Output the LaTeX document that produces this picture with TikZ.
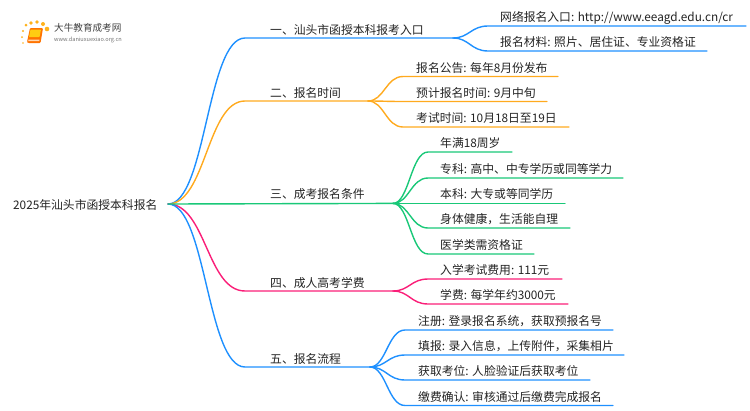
\documentclass[tikz,border=0pt]{standalone}
\usepackage{fontspec}
\setmainfont{Noto Sans CJK SC}
\definecolor{lineblue}{RGB}{30,144,255}
\definecolor{lineorange}{RGB}{255,170,30}
\definecolor{linegreen}{RGB}{25,200,120}
\definecolor{linepink}{RGB}{250,30,120}
\definecolor{textgray}{RGB}{35,35,35}
\tikzset{%
	label/.style    	= {anchor = base west, inner sep = 0pt, text = textgray, font = \fontsize{11.8}{14}\selectfont},
	logotext/.style 	= {anchor = base west, inner sep = 0pt, text = black!75},
	link/.style     	= {line width = 1.4pt, line cap = round},
	trunk/.style    	= {to path = {.. controls +(38,0) and +(-38,0) .. (\tikztotarget)}}, % Root to branch
	twig/.style     	= {to path = {.. controls +(16,0) and +(-17,0) .. (\tikztotarget)}} % Fork to leaf
}

\begin{document}
\begin{tikzpicture}[x=1pt, y=-1pt]
	\useasboundingbox (0,0) rectangle (750,410);

	% Drawing the logo
	\foreach \px/\py/\pr in {23/43/0.8, 22/37/1, 23/31/1.2, 26/25/1.5, 31/23/1.8, 37/22/1.9, 43/24/2, 47/29/2.3}
		\fill[lineorange!90!yellow] (\px,\py) circle (\pr);
	\fill[orange!90!red, rounded corners=1pt] (27,42) -- (30,28) -- (43,28) -- (40.5,43) -- (28,43) -- cycle;
	\fill[lineorange!60!yellow, rounded corners=0.5pt] (30.5,29.5) -- (41,29.5) -- (39.5,37) -- (29,37) -- cycle;
	\fill[white!70!orange] (28.5,39.5) -- (39.5,39.5) -- (39.2,41) -- (28.2,41) -- cycle;
	\shade[left color=white, middle color=black!18, right color=white] (45,33) rectangle (133,33.8);
	\node[logotext, font=\fontsize{9.6}{11}\selectfont] (logoname) at (54,31) {大牛教育成考网};
	\node[logotext, font=\fontsize{5.6}{7}\selectfont, text=black!55] (logourl) at (54,41) {www.daniuxuexiao.org.cn};

	% Drawing the text
	\draw
	node[label] (root) at (13,209) {2025年汕头市函授本科报名}
	node[label] (b1) at (270,34) {一、汕头市函授本科报考入口}
	node[label] (b2) at (270,97) {二、报名时间}
	node[label] (b3) at (270,198) {三、成考报名条件}
	node[label] (b4) at (270,287) {四、成人高考学费}
	node[label] (b5) at (270,363) {五、报名流程}
	node[label] (a1) at (500,21.5) {网络报名入口: http://www.eeagd.edu.cn/cr}
	node[label] (a2) at (500,46.5) {报名材料: 照片、居住证、专业资格证}
	node[label] (c1) at (416,72) {报名公告: 每年8月份发布}
	node[label] (c2) at (416,97) {预计报名时间: 9月中旬}
	node[label] (c3) at (416,122.5) {考试时间: 10月18日至19日}
	node[label] (d1) at (440,147.5) {年满18周岁}
	node[label] (d2) at (440,173.5) {专科: 高中、中专学历或同等学力}
	node[label] (d3) at (440,198.5) {本科: 大专或等同学历}
	node[label] (d4) at (440,223.5) {身体健康，生活能自理}
	node[label] (d5) at (440,249.5) {医学类需资格证}
	node[label] (e1) at (440,274.5) {入学考试费用: 111元}
	node[label] (e2) at (440,299.5) {学费: 每学年约3000元}
	node[label] (f1) at (418,325.5) {注册: 登录报名系统，获取预报名号}
	node[label] (f2) at (418,350.5) {填报: 录入信息，上传附件，采集相片}
	node[label] (f3) at (418,375.5) {获取考位: 人脸验证后获取考位}
	node[label] (f4) at (418,401) {缴费确认: 审核通过后缴费完成报名}
	;

	% Drawing the joints
	\coordinate (start) at (168,204);
	\coordinate (s1) at (245,38);
	\coordinate (s2) at (245,101);
	\coordinate (s4) at (245,291);
	\coordinate (s5) at (245,367);
	\coordinate (fork1) at (453,38);
	\coordinate (fork2) at (368,101);
	\coordinate (fork3) at (393,203.4);
	\coordinate (fork4) at (393,291);
	\coordinate (fork5) at (370,367);
	\coordinate (a1s) at (488,26);
	\coordinate (a1e) at (746,26);
	\coordinate (a2s) at (488,51);
	\coordinate (a2e) at (707,51);
	\coordinate (c1s) at (403,76.5);
	\coordinate (c1e) at (558,76.5);
	\coordinate (c2s) at (403,101.5);
	\coordinate (c2e) at (547,101.5);
	\coordinate (c3s) at (403,127);
	\coordinate (c3e) at (569,127);
	\coordinate (d1s) at (428,152);
	\coordinate (d1e) at (512,152);
	\coordinate (d2s) at (428,178);
	\coordinate (d2e) at (623,178);
	\coordinate (d3s) at (428,203.4);
	\coordinate (d3e) at (565,203.4);
	\coordinate (d4s) at (428,228);
	\coordinate (d4e) at (570,228);
	\coordinate (d5s) at (428,254);
	\coordinate (d5e) at (534,254);
	\coordinate (e1s) at (428,279);
	\coordinate (e1e) at (562,279);
	\coordinate (e2s) at (428,304);
	\coordinate (e2e) at (568,304);
	\coordinate (f1s) at (405,330);
	\coordinate (f1e) at (613,330);
	\coordinate (f2s) at (405,355);
	\coordinate (f2e) at (624,355);
	\coordinate (f3s) at (405,380);
	\coordinate (f3e) at (590,380);
	\coordinate (f4s) at (405,405.5);
	\coordinate (f4e) at (613,405.5);

	% Drawing the branches
	\draw[link, lineblue] (start) to[trunk] (s1) -- (fork1);
	\draw[link, lineorange] (start) to[trunk] (s2) -- (fork2);
	\draw[link, linepink] (start) to[trunk] (s4) -- (fork4);
	\draw[link, lineblue] (start) to[trunk] (s5) -- (fork5);
	\draw[link, linegreen] (start) -- (fork3);

	% Drawing the leaves
	\draw[link, lineblue] (fork1) to[twig] (a1s) -- (a1e);
	\draw[link, lineblue] (fork1) to[twig] (a2s) -- (a2e);
	\draw[link, lineorange] (fork2) to[twig] (c1s) -- (c1e);
	\draw[link, lineorange] (fork2) to[twig] (c2s) -- (c2e);
	\draw[link, lineorange] (fork2) to[twig] (c3s) -- (c3e);
	\draw[link, linegreen] (fork3) to[twig] (d1s) -- (d1e);
	\draw[link, linegreen] (fork3) to[twig] (d2s) -- (d2e);
	\draw[link, linegreen] (fork3) to[twig] (d3s) -- (d3e);
	\draw[link, linegreen] (fork3) to[twig] (d4s) -- (d4e);
	\draw[link, linegreen] (fork3) to[twig] (d5s) -- (d5e);
	\draw[link, linepink] (fork4) to[twig] (e1s) -- (e1e);
	\draw[link, linepink] (fork4) to[twig] (e2s) -- (e2e);
	\draw[link, lineblue] (fork5) to[twig] (f1s) -- (f1e);
	\draw[link, lineblue] (fork5) to[twig] (f2s) -- (f2e);
	\draw[link, lineblue] (fork5) to[twig] (f3s) -- (f3e);
	\draw[link, lineblue] (fork5) to[twig] (f4s) -- (f4e);
\end{tikzpicture}
\end{document}
